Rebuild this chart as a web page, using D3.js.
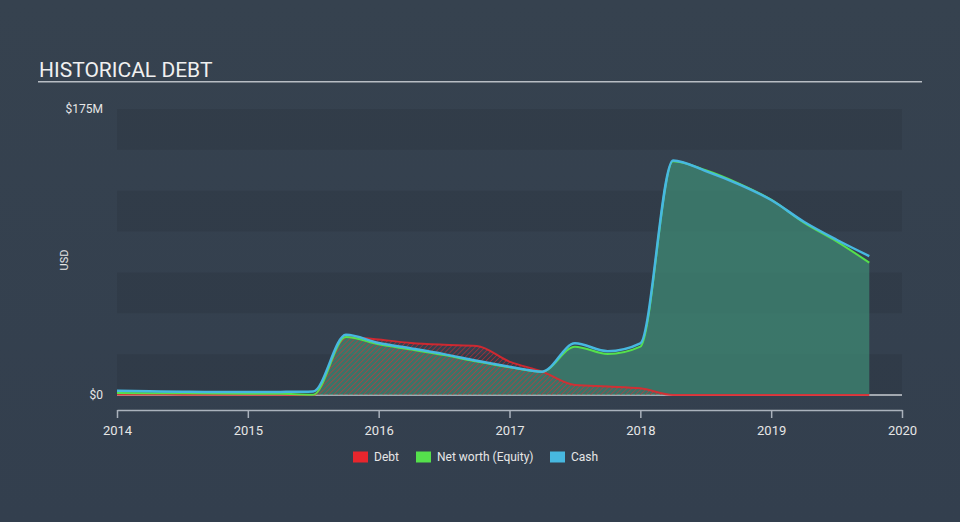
<!DOCTYPE html>
<html><head><meta charset="utf-8">
<script src="https://cdn.jsdelivr.net/npm/d3@7"></script>
<style>
html,body{margin:0;padding:0;background:#333f4e;}
svg{display:block;font-family:Roboto,"Noto Sans",sans-serif;}
</style></head>
<body>
<svg id="chart" width="960" height="522"></svg>
<script>
const dates = [2014.0,2014.25,2014.5,2014.75,2015.0,2015.25,2015.5,2015.75,2016.0,2016.25,2016.5,2016.75,2017.0,2017.25,2017.5,2017.75,2018.0,2018.25,2018.5,2018.75,2019.0,2019.25,2019.5,2019.75];
const debt   = [0.3,0.3,0.2,0.2,0.2,0.1,0.0,35.5,34.0,31.8,30.7,30.0,20.4,14.3,6.1,5.2,4.1,0,0,0,0,0,0,0];
const equity = [1.3,1.1,1.0,0.9,0.8,0.7,0.2,35.5,31.0,27.8,24.4,20.5,17.0,14.3,29.6,25.1,29.6,143.0,137.5,129.5,119.5,105.5,94.0,81.0];
const cash   = [2.6,2.3,2.0,1.8,1.8,1.9,2.2,36.8,31.8,28.5,25.0,21.0,17.3,14.3,31.6,26.8,31.6,143.5,137.0,129.0,119.3,106.0,95.0,85.0];
const yearTicks = [2014,2015,2016,2017,2018,2019,2020];
const yTickLabels = ["$0","$175M"];
const yTickValues = [0,175];
const legendLabels = ["Debt","Net worth (Equity)","Cash"];
const colors = {debt:"#e8262d", equity:"#55e04c", cash:"#47b8e0"};

const svg = d3.select("#chart");
const W = 960, H = 522;
const m = {left:117, right:58, top:109, bottom:127};
const x = d3.scaleLinear().domain([2014,2020]).range([m.left, W-m.right]);
const y = d3.scaleLinear().domain([0,175]).range([H-m.bottom, m.top]);

const defs = svg.append("defs");
const bg = defs.append("linearGradient").attr("id","bg").attr("x1",0).attr("y1",0).attr("x2",0).attr("y2",1);
bg.append("stop").attr("offset","0%").attr("stop-color","#36424f");
bg.append("stop").attr("offset","100%").attr("stop-color","#333f4e");
svg.append("rect").attr("width",W).attr("height",H).attr("fill","url(#bg)");

const pat = defs.append("pattern").attr("id","hatch").attr("patternUnits","userSpaceOnUse")
  .attr("width",3.5).attr("height",3.5).attr("patternTransform","rotate(45)");
pat.append("line").attr("x1",0).attr("y1",0).attr("x2",0).attr("y2",3.5)
  .attr("stroke",colors.debt).attr("stroke-width",1.4).attr("stroke-opacity",0.7);

svg.append("text").attr("x",39).attr("y",77).text("HISTORICAL DEBT")
  .attr("fill","#f0f0f0").attr("font-size",21);
svg.append("rect").attr("x",38).attr("y",81).attr("width",884).attr("height",1.5).attr("fill","#b8bdc4");

const bandStep = 25;
const bands = d3.range(0,175,bandStep);
svg.append("g").selectAll("rect").data(bands).join("rect")
  .attr("x",x(2014)).attr("width",x(2020)-x(2014))
  .attr("y",d=>y(d+bandStep)).attr("height",d=>y(d)-y(d+bandStep))
  .attr("fill",(d,i)=> i%2===0 ? "rgba(0,0,0,0.065)" : "rgba(255,255,255,0.0)");

svg.append("g").selectAll("text").data(yTickValues).join("text")
  .attr("x",103).attr("y",d=>y(d)).attr("dy","0.35em").attr("text-anchor","end")
  .attr("fill","#e6e6e6").attr("font-size",12).text((d,i)=>yTickLabels[i]);
svg.append("text").attr("transform",`translate(68,${(y(0)+y(175))/2+8}) rotate(-90)`)
  .attr("text-anchor","middle").attr("fill","#e6e6e6").attr("font-size",11).text("USD");

svg.append("line").attr("x1",x(2014)).attr("x2",x(2020)).attr("y1",y(0)).attr("y2",y(0))
  .attr("stroke","#c8ccd2").attr("stroke-width",1.5);

const xAxis = d3.axisBottom(x).tickValues(yearTicks).tickFormat(d3.format("d")).tickSize(8).tickSizeOuter(0);
const gx = svg.append("g").attr("transform",`translate(0,410)`).call(xAxis);
gx.select(".domain").attr("stroke","#aab2bc").attr("stroke-width",1.5);
gx.selectAll(".tick line").attr("stroke","#aab2bc").attr("stroke-width",1.5);
gx.selectAll(".tick text").attr("fill","#e6e6e6").attr("font-size",13).attr("dy","1.05em")
  .attr("font-family","Roboto,'Noto Sans',sans-serif");

const pts = (arr)=>dates.map((d,i)=>[d,arr[i]]);
const curve = d3.curveMonotoneX;
const area = d3.area().x(d=>x(d[0])).y0(y(0)).y1(d=>y(d[1])).curve(curve);
const line = d3.line().x(d=>x(d[0])).y(d=>y(d[1])).curve(curve);

svg.append("path").datum(pts(equity)).attr("d",area).attr("fill","#3f8a74").attr("fill-opacity",0.72);
svg.append("path").datum(pts(debt)).attr("d",area).attr("fill","url(#hatch)");

svg.append("path").datum(pts(debt)).attr("d",line).attr("fill","none").attr("stroke",colors.debt).attr("stroke-width",2).attr("stroke-opacity",0.85);
svg.append("path").datum(pts(equity)).attr("d",line).attr("fill","none").attr("stroke",colors.equity).attr("stroke-width",2);
svg.append("path").datum(pts(cash)).attr("d",line).attr("fill","none").attr("stroke",colors.cash).attr("stroke-width",2.5);

const legendColors = [colors.debt, colors.equity, colors.cash];
const legendX = [353, 416, 550];
const lg = svg.append("g");
legendLabels.forEach((l,i)=>{
  lg.append("rect").attr("x",legendX[i]).attr("y",451.5).attr("width",15).attr("height",11).attr("fill",legendColors[i]);
  lg.append("text").attr("x",legendX[i]+21).attr("y",457).attr("dy","0.35em").attr("fill","#e6e6e6").attr("font-size",12).text(l);
});
</script>
</body></html>
